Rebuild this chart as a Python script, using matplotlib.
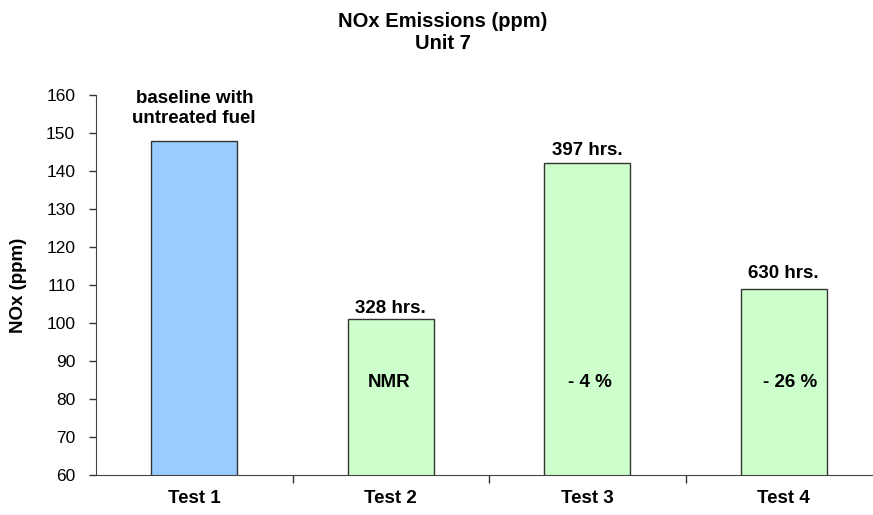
import matplotlib.pyplot as plt

plt.rcParams['font.family'] = ['Liberation Sans', 'DejaVu Sans']

tests = ['Test 1', 'Test 2', 'Test 3', 'Test 4']
nox_ppm = [148, 101, 142, 109]
top_labels = ['baseline with\nuntreated fuel', '328 hrs.', '397 hrs.', '630 hrs.']
inner_labels = ['', 'NMR', '- 4 %', '- 26 %']
bar_colors = ['#99CCFF', '#CCFFCC', '#CCFFCC', '#CCFFCC']

# label placement tweaks (pixels) to follow the original layout
top_gap_px = [0, 6.5, 8, 11]
inner_shift_px = [0, -2, 3, 6]

W, H = 873, 515
fig = plt.figure(figsize=(W / 100, H / 100), dpi=100)
# axes runs a little past the right edge, like the original
ax = fig.add_axes([96 / W, 40 / H, 786 / W, 380 / H])

x = list(range(len(tests)))
ax.bar(x, nox_ppm, width=0.436, color=bar_colors, edgecolor='#333333', linewidth=1.0, zorder=2)

lbl_font = dict(fontsize=13.5, fontweight='bold')
px = 72 / 100  # points per pixel

# multi-line text with va='baseline' sits on its last line
ax.text(0, 152.7, top_labels[0], ha='center', va='baseline', linespacing=1.2, **lbl_font)
for i in x[1:]:
    ax.annotate(top_labels[i], (i, nox_ppm[i]), xytext=(0, top_gap_px[i] * px),
                textcoords='offset points', ha='center', va='baseline', **lbl_font)
    ax.annotate(inner_labels[i], (i, 83.2), xytext=(inner_shift_px[i] * px, 0),
                textcoords='offset points', ha='center', va='baseline', **lbl_font)

ax.set_ylim(60, 160)
ax.set_yticks(range(60, 161, 10))
ax.set_xlim(-0.5, 3.5)
ax.set_xticks([0.5, 1.5, 2.5])
ax.set_xticklabels([])
ax.set_xticks(x, minor=True)
ax.set_xticklabels(tests, minor=True, **lbl_font)
ax.tick_params(axis='x', which='minor', length=0, pad=11)
ax.tick_params(axis='x', which='major', direction='out', length=6, width=1, color='#333333')
ax.tick_params(axis='y', direction='out', length=5, width=1, color='#333333', labelsize=12.5, pad=10)

for side in ['top', 'right']:
    ax.spines[side].set_visible(False)
for side in ['left', 'bottom']:
    ax.spines[side].set_color('#444444')

ax.set_ylabel('NOx (ppm)', **lbl_font)
ax.yaxis.label.set_va('center')
ax.yaxis.set_label_coords((19 - 96) / 786, 0.5)

fig.text(443 / W, 1 - 49 / H, 'NOx Emissions (ppm)\nUnit 7', ha='center', va='baseline',
         fontsize=14.5, fontweight='bold', linespacing=1.2)

fig.savefig('out.png', dpi=100)
